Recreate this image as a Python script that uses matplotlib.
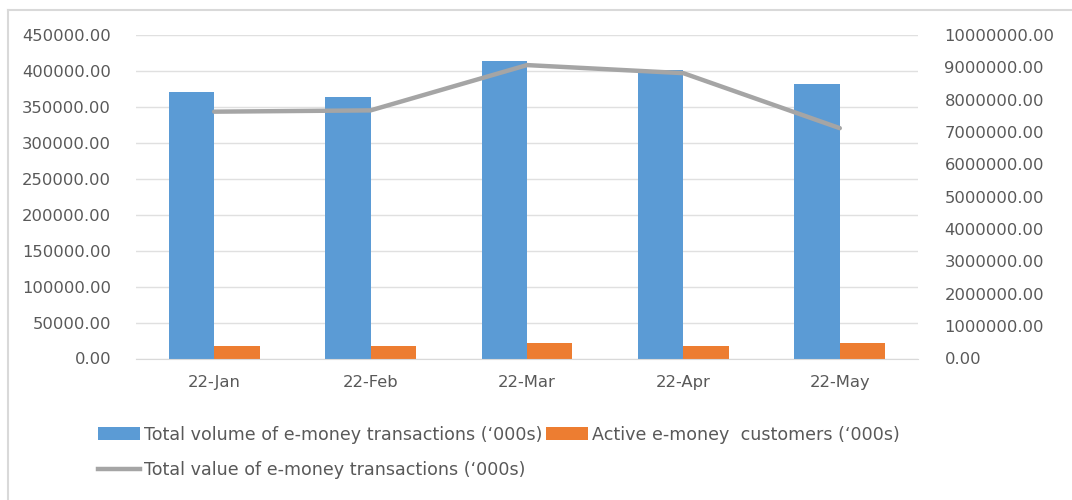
import matplotlib
matplotlib.use("Agg")
import matplotlib.pyplot as plt
import numpy as np
from matplotlib.lines import Line2D
from matplotlib.patches import Patch

categories = ["22-Jan", "22-Feb", "22-Mar", "22-Apr", "22-May"]
volume = [371000, 363700, 413800, 401300, 381800]
customers = [18000, 18000, 21000, 18000, 21000]
value = [7630000, 7670000, 9070000, 8820000, 7120000]

left_ticks = np.arange(0, 450001, 50000)
right_ticks = np.arange(0, 10000001, 1000000)

blue = "#5B9BD5"
orange = "#ED7D31"
gray = "#A5A5A5"
txt = "#595959"

W, H = 1072, 500
fig = plt.figure(figsize=(W / 100, H / 100), dpi=100)
fig.patch.set_facecolor("white")

ax = fig.add_axes([136 / W, 1 - 358.5 / H, (918 - 136) / W, (358.5 - 35) / H])
ax2 = ax.twinx()

x = np.arange(len(categories))
bw = 0.29
ax.bar(x - bw / 2, volume, width=bw, color=blue, zorder=3)
ax.bar(x + bw / 2, customers, width=bw, color=orange, zorder=3)
ax2.plot(x, value, color=gray, lw=3.2, solid_capstyle="round", zorder=4)

ax.set_xlim(-0.5, len(categories) - 0.5)
ax.set_ylim(0, 450000)
ax2.set_ylim(0, 10000000)
ax.set_yticks(left_ticks)
ax.set_yticklabels([f"{v:.2f}" for v in left_ticks])
ax2.set_yticks(right_ticks)
ax2.set_yticklabels([f"{v:.2f}" for v in right_ticks])
ax.set_xticks(x)
ax.set_xticklabels(categories)

ax.grid(axis="y", color="#E0E0E0", lw=1, zorder=0)
ax.set_axisbelow(True)
for a in (ax, ax2):
    for s in ("top", "right", "left", "bottom"):
        a.spines[s].set_visible(False)
ax.spines["bottom"].set_visible(True)
ax.spines["bottom"].set_color("#D9D9D9")
ax.spines["bottom"].set_zorder(5)

ax.tick_params(axis="y", length=0, pad=18, labelsize=11.8, labelcolor=txt)
ax2.tick_params(axis="y", length=0, pad=19, labelsize=11.8, labelcolor=txt)
ax.tick_params(axis="x", length=0, pad=12, labelsize=11.8, labelcolor=txt)

handles = [
    Patch(facecolor=blue, edgecolor="none"),
    Line2D([0], [0], color=gray, lw=3.2),
    Patch(facecolor=orange, edgecolor="none"),
]
labels = [
    "Total volume of e-money transactions (\u2018000s)",
    "Total value of e-money transactions (\u2018000s)",
    "Active e-money  customers (\u2018000s)",
]
leg = fig.legend(handles, labels, loc="upper left", bbox_to_anchor=(82 / W, 1 - 410 / H),
                 ncol=2, frameon=False, fontsize=12.6, handlelength=2.4, handleheight=0.75,
                 handletextpad=0.25, columnspacing=0.2, labelspacing=1.0, labelcolor=txt)

# outer chart border
fig.add_artist(Line2D([8 / W, 1], [1 - 10 / H, 1 - 10 / H], color="#D9D9D9", lw=1.5))
fig.add_artist(Line2D([8 / W, 8 / W], [0, 1 - 10 / H], color="#D9D9D9", lw=1.5))

fig.savefig("out.png", dpi=100, facecolor="white")
